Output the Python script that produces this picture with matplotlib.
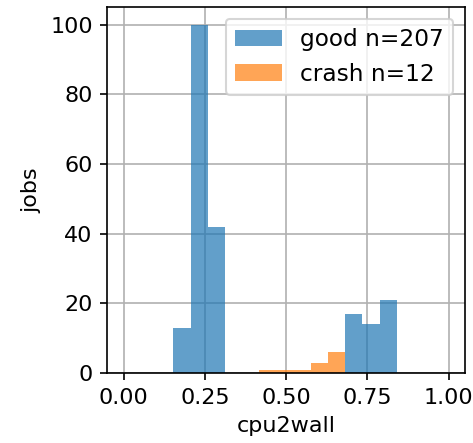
import numpy as np
from matplotlib import pyplot as plt

# shared bin edges (13 bins between min and max cpu2wall)
bin_lo = 0.153
bin_hi = 0.840
n_bins = 13
good_counts = [13, 100, 42, 0, 0, 0, 0, 0, 0, 0, 17, 14, 21]
crash_counts = [0, 0, 0, 0, 0, 1, 1, 1, 3, 6, 0, 0, 0]
good_label = "good n=207"
crash_label = "crash n=12"

plt.rcParams['font.size'] = 10.7

edges = np.linspace(bin_lo, bin_hi, n_bins + 1)
centers = (edges[:-1] + edges[1:]) / 2

fig = plt.figure(figsize=(473 / 150, 443 / 150), dpi=150)
ax = fig.add_axes([0.227, 0.158, 0.756, 0.826])

ax.hist(centers, bins=edges, weights=good_counts, alpha=0.7, color="tab:blue", label=good_label)
ax.hist(centers, bins=edges, weights=crash_counts, alpha=0.7, color="tab:orange", label=crash_label)
ax.grid(True)
ax.set_axisbelow(True)
ax.set_xlim(-0.05, 1.05)
ax.set_xticks([0, 0.25, 0.5, 0.75, 1.0])
ax.set_xlabel("cpu2wall")
ax.set_ylabel("jobs")
ax.legend(loc="upper right", fontsize=11.2)

fig.savefig("out.png", dpi=150)
